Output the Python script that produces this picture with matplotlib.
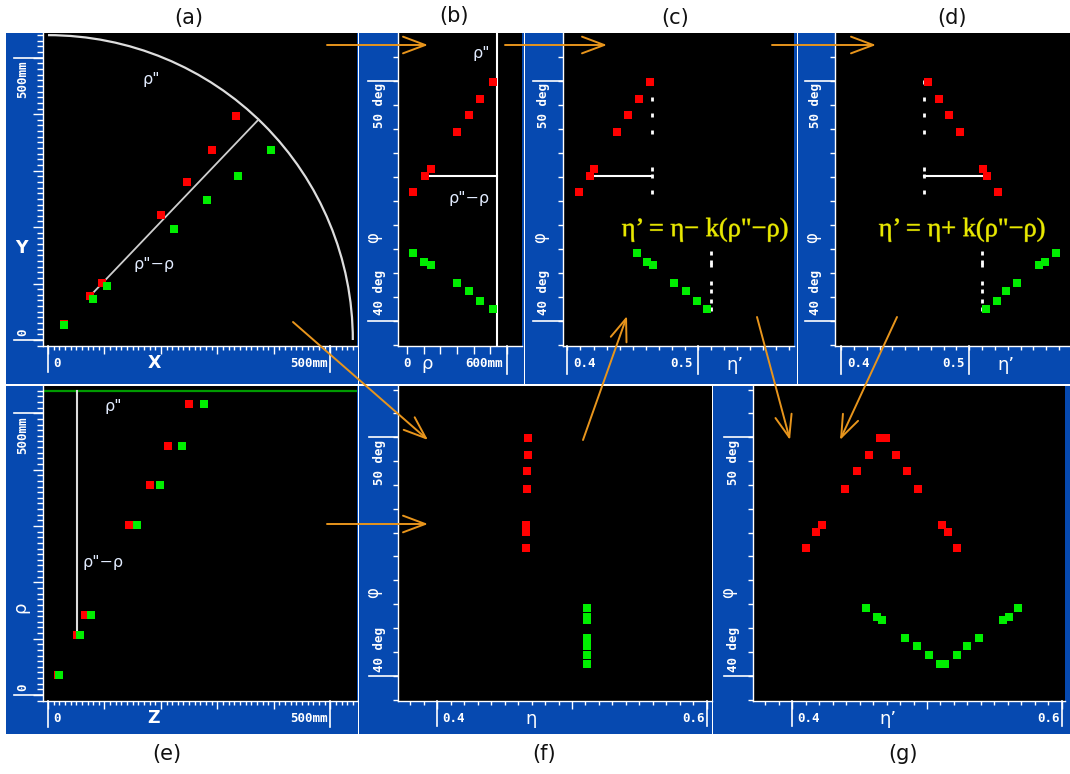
import numpy as np
import matplotlib
matplotlib.use("Agg")
import matplotlib.pyplot as plt
import matplotlib.transforms as mtransforms
import matplotlib.patheffects as pe
from matplotlib.patches import Rectangle, FancyArrowPatch, Arc, ArrowStyle
from matplotlib.ticker import MultipleLocator

W, H = 1070, 774
BLUE = "#0649b0"
ORANGE = "#e8951c"
RED = "#ff0000"
GREEN = "#00ee00"
LABEL = "#e2ecff"
TICK_FONT = dict(family="DejaVu Sans Mono", weight="bold", size=9, color="white")

# radius of the reference surface (mm)
rho_pp = 540

# (a) hits in the transverse plane, mm
red_x = [332.5, 291.1, 246.8, 199.6, 96.2, 74.4, 28.9]
red_y = [396.8, 337.1, 280.4, 222.0, 101.5, 77.9, 28.3]
green_x = [394.5, 336.0, 281.7, 223.2, 104.0, 80.2, 28.9]
green_y = [337.1, 290.5, 247.5, 196.6, 95.7, 73.2, 26.6]

# (b) radius and azimuth of each hit
red_rho = [516, 442, 372, 302, 142, 106, 36]
green_rho = [520, 442, 372, 302, 142, 102, 36]
red_phi = [49.95, 49.24, 48.58, 47.85, 46.34, 46.03, 45.37]
green_phi = [40.49, 40.85, 41.23, 41.58, 42.33, 42.47, 42.82]

# (e) longitudinal position, mm
red_z = [250.5, 213.0, 180.0, 144.0, 65.6, 52.0, 18.0]
green_z = [276.6, 237.0, 198.6, 158.5, 75.7, 56.7, 19.5]

# (f) pseudorapidity of each hit
red_eta = [0.4671, 0.4671, 0.4668, 0.4668, 0.4660, 0.4660, 0.4661]
green_eta = [0.5114, 0.5114, 0.5114, 0.5114, 0.5114, 0.5114, 0.5114]

# (c) eta' = eta - k(rho''-rho), (d) eta' = eta + k(rho''-rho)
red_eta_ref, green_eta_ref = 0.4650, 0.5097
red_eta_minus = [0.4632, 0.4550, 0.4466, 0.4382, 0.4203, 0.4170, 0.4090]
green_eta_minus = [0.5071, 0.4990, 0.4910, 0.4816, 0.4657, 0.4611, 0.4535]
red_eta_plus = [0.4676, 0.4761, 0.4844, 0.4925, 0.5104, 0.5140, 0.5221]
green_eta_plus = [0.5130, 0.5214, 0.5286, 0.5374, 0.5545, 0.5592, 0.5673]

# (g) both corrections together
red_minus_g = [0.4651, 0.4570, 0.4483, 0.4391, 0.4218, 0.4178, 0.4099]
red_plus_g = [0.4696, 0.4772, 0.4852, 0.4936, 0.5109, 0.5156, 0.5225]
green_minus_g = [0.5097, 0.5015, 0.4928, 0.4837, 0.4664, 0.4631, 0.4545]
green_plus_g = [0.5131, 0.5221, 0.5300, 0.5384, 0.5567, 0.5607, 0.5676]

fig = plt.figure(figsize=(W / 100, H / 100), dpi=100)
fig.patch.set_facecolor("white")


def frac(x0, y0, x1, y1):
    return [x0 / W, 1 - y1 / H, (x1 - x0) / W, (y1 - y0) / H]


def backdrop(x0, y0, x1, y1):
    fig.add_artist(Rectangle((x0 / W, 1 - y1 / H), (x1 - x0) / W, (y1 - y0) / H,
                             transform=fig.transFigure, color=BLUE, zorder=-1, lw=0))


def panel(box, xlim, ylim):
    ax = fig.add_axes(frac(*box))
    ax.set_facecolor("black")
    ax.set_xlim(*xlim)
    ax.set_ylim(*ylim)
    for s in ("top", "right"):
        ax.spines[s].set_visible(False)
    for s in ("left", "bottom"):
        ax.spines[s].set_color("white")
        ax.spines[s].set_linewidth(1.0)
    ax.tick_params(which="both", direction="out", colors="white", width=1,
                   labelbottom=False, labelleft=False)
    return ax


def ticks(ax, axis, major, major_len, minor=None, minor_len=0):
    a = ax.xaxis if axis == "x" else ax.yaxis
    a.set_major_locator(MultipleLocator(major))
    if minor:
        a.set_minor_locator(MultipleLocator(minor))
    ax.tick_params(axis=axis, which="major", length=major_len * 0.72)
    ax.tick_params(axis=axis, which="minor", length=minor_len * 0.72, width=1)


def xmark(ax, v, text, side, length=26, dx=5, dy=-17, line=True):
    tr = mtransforms.blended_transform_factory(ax.transData, ax.transAxes)
    if line:
        ax.plot([v, v], [0, -length / ax.bbox.height], transform=tr,
                color="white", lw=1.2, clip_on=False)
    ax.annotate(text, xy=(v, 0), xycoords=tr, xytext=(dx * side, dy),
                textcoords="offset pixels", ha="left" if side > 0 else "right",
                va="center", annotation_clip=False, **TICK_FONT)


def ymark(ax, v, text, side, length=29, dx=-19, dy=4):
    tr = mtransforms.blended_transform_factory(ax.transAxes, ax.transData)
    ax.plot([0, -length / ax.bbox.width], [v, v], transform=tr,
            color="white", lw=1.2, clip_on=False)
    ax.annotate(text, xy=(0, v), xycoords=tr, xytext=(dx, dy * side),
                textcoords="offset pixels", rotation=90, rotation_mode="anchor",
                ha="left" if side > 0 else "right", va="center",
                annotation_clip=False, **TICK_FONT)


def dots(ax, x, y, color):
    ax.scatter(x, y, marker="s", s=26, color=color, lw=0, zorder=3)


def axis_name(x, y, s, size=12, rotation=0, weight="normal"):
    fig.text(x / W, 1 - y / H, s, ha="center", va="center", color="white",
             fontsize=size, rotation=rotation, fontweight=weight)


# blue frames
for box in [(6, 33, 357.5, 384), (359, 33, 524, 384), (525, 33, 797, 384), (798, 33, 1070, 384),
            (6, 386, 357.5, 734), (359, 386, 712, 734), (713, 386, 1070, 734)]:
    backdrop(*box)

# (a) transverse view
ax = panel((43, 33, 357, 346), (-8.9, 547.4), (-10.6, 543.8))
ticks(ax, "x", 100, 8, 10, 4)
ticks(ax, "y", 100, 10, 10, 6)
ax.add_patch(Arc((0, 0), 2 * rho_pp, 2 * rho_pp, theta1=0, theta2=90, color="#dddddd", lw=1.6))
ang = np.arctan2(red_y[5], red_x[5])
ax.plot([red_x[5], rho_pp * np.cos(ang)], [red_y[5], rho_pp * np.sin(ang)], color="#cfcfcf", lw=1.3)
dots(ax, red_x, red_y, RED)
dots(ax, green_x, green_y, GREEN)
ax.text(183.7, 460.6, 'ρ"', color=LABEL, fontsize=11.5, ha="center", va="center")
ax.text(187.8, 132.9, 'ρ"−ρ', color=LABEL, fontsize=11.5, ha="center", va="center")
xmark(ax, 0, "0", 1)
xmark(ax, 500, "500mm", -1, dx=3)
ymark(ax, 0, "0", 1, dx=-20)
ymark(ax, 500, "500mm", -1, dx=-20, dy=3)
axis_name(154, 363, "X", 12.5, weight="bold")
axis_name(21, 248, "Y", 12.5, weight="bold")

# (b) phi versus rho
ax = panel((398, 33, 522, 346), (-56.2, 693), (38.96, 51.98))
ticks(ax, "x", 100, 8)
ticks(ax, "y", 1, 5)
ax.axvline(rho_pp, color="white", lw=1.5)
ax.plot([red_rho[5], rho_pp], [red_phi[5], red_phi[5]], color="white", lw=1.5)
dots(ax, red_rho, red_phi, RED)
dots(ax, green_rho, green_phi, GREEN)
ax.text(446, 51.14, 'ρ"', color=LABEL, fontsize=11.5, ha="center", va="center")
ax.text(376, 45.11, 'ρ"−ρ', color=LABEL, fontsize=11.5, ha="center", va="center")
xmark(ax, 0, "0", 1, dx=-4, line=False)
xmark(ax, 600, "600mm", -1, length=28, dx=4)
ymark(ax, 50, "50 deg", -1, length=30, dx=-19, dy=2)
ymark(ax, 40, "40 deg", 1, length=30, dx=-19, dy=6)
axis_name(427, 364, "ρ", 13)
axis_name(373, 238, "φ", 12, rotation=90)

# (c) and (d) corrected pseudorapidity
for box, xlim, red_e, green_e, sign in [
        ((563, 33, 794, 346), (0.3966, 0.5736), red_eta_minus, green_eta_minus, -1),
        ((835, 33, 1070, 346), (0.3953, 0.5785), red_eta_plus, green_eta_plus, 1)]:
    ax = panel(box, xlim, (38.96, 51.98))
    ticks(ax, "x", 0.01, 4)
    ticks(ax, "y", 1, 5)
    ax.plot(np.full(len(red_phi), red_eta_ref), red_phi, ls="none", marker="|",
            ms=3.2, mew=2, color="white")
    ax.plot(np.full(len(green_phi), green_eta_ref), green_phi, ls="none", marker="|",
            ms=3.2, mew=2, color="white")
    ax.plot([red_eta_ref, red_e[5]], [red_phi[5], red_phi[5]], color="white", lw=1.5)
    dots(ax, red_e, red_phi, RED)
    dots(ax, green_e, green_phi, GREEN)
    xmark(ax, 0.4, "0.4", 1, length=28, dx=6)
    xmark(ax, 0.5, "0.5", -1, length=28, dx=5)
    ymark(ax, 50, "50 deg", -1, length=30, dx=-19, dy=2)
    ymark(ax, 40, "40 deg", 1, length=30, dx=-19, dy=6)

axis_name(735, 365, "η’", 13)
axis_name(1006, 365, "η’", 13)
axis_name(540, 238, "φ", 12, rotation=90)
axis_name(812, 238, "φ", 12, rotation=90)

# (e) rho versus z
ax = panel((43, 386, 357, 701), (-8.9, 547.4), (-10.6, 548.5))
ticks(ax, "x", 100, 8, 10, 4)
ticks(ax, "y", 100, 10, 10, 6)
ax.axhline(rho_pp, color="#009a00", lw=1.6)
ax.plot([red_z[5], red_z[5]], [red_rho[5], rho_pp], color="#dddddd", lw=1.5)
dots(ax, red_z, red_rho, RED)
dots(ax, green_z, red_rho, GREEN)
ax.text(115.7, 511.7, 'ρ"', color=LABEL, fontsize=11.5, ha="center", va="center")
ax.text(96.9, 234.8, 'ρ"−ρ', color=LABEL, fontsize=11.5, ha="center", va="center")
xmark(ax, 0, "0", 1)
xmark(ax, 500, "500mm", -1, dx=3)
ymark(ax, 0, "0", 1, dx=-20)
ymark(ax, 500, "500mm", -1, dx=-20, dy=3)
axis_name(154, 718, "Z", 12.5, weight="bold")
axis_name(20, 607, "ρ", 13, rotation=90)

# (f) uncorrected and (g) combined
for box, xlabel, xlabel_x in [((398, 386, 712, 701), "η", 531), ((753, 386, 1065, 701), "η’", 888)]:
    ax = panel(box, (0.3708, 0.604 if xlabel == "η" else 0.6025), (38.94, 52.15))
    ticks(ax, "x", 0.1, 8, 0.01, 4)
    ticks(ax, "y", 1, 5)
    if xlabel == "η":
        dots(ax, red_eta, red_phi, RED)
        dots(ax, green_eta, green_phi, GREEN)
    else:
        dots(ax, red_minus_g + red_plus_g, red_phi + red_phi, RED)
        dots(ax, green_minus_g + green_plus_g, green_phi + green_phi, GREEN)
    xmark(ax, 0.4, "0.4", 1, length=25, dx=5)
    xmark(ax, 0.6, "0.6", -1, length=25, dx=2)
    ymark(ax, 50, "50 deg", -1, length=29, dx=-19, dy=3)
    ymark(ax, 40, "40 deg", 1, length=29, dx=-19, dy=4)
    axis_name(xlabel_x, 719, xlabel, 13)
    axis_name(box[0] - 25, 593, "φ", 12, rotation=90)

# formulas
for x, s in [(705, 'η’ = η− k(ρ"−ρ)'), (962, 'η’ = η+ k(ρ"−ρ)')]:
    fig.text(x / W, 1 - 230 / H, s, ha="center", va="center", color="#e8e800",
             family="Liberation Serif", fontsize=19, zorder=5,
             path_effects=[pe.withStroke(linewidth=0.6, foreground="#8a8a00")])

# connectors between the panels
connectors = [((327, 45), (428, 45)), ((505, 45), (607, 45)), ((772, 45), (876, 45)),
              ((293, 322), (428, 440)), ((327, 524), (428, 524)), ((583, 440), (627, 316)),
              ((757, 317), (790, 440)), ((897, 317), (840, 440))]
for (xa, ya), (xb, yb) in connectors:
    fig.add_artist(FancyArrowPatch((xa / W, 1 - ya / H), (xb / W, 1 - yb / H),
                                   transform=fig.transFigure, color=ORANGE, lw=1.4,
                                   arrowstyle=ArrowStyle("->", head_length=16, head_width=6),
                                   mutation_scale=1, shrinkA=0, shrinkB=0, zorder=6))

# panel letters
for x, y, s in [(189, 18, "(a)"), (454, 16, "(b)"), (675, 18, "(c)"), (952, 18, "(d)"),
                (167, 754, "(e)"), (544, 754, "(f)"), (903, 754, "(g)")]:
    fig.text(x / W, 1 - y / H, s, ha="center", va="center", fontsize=15, color="#111111")

fig.savefig("out.png", dpi=100, facecolor="white")
